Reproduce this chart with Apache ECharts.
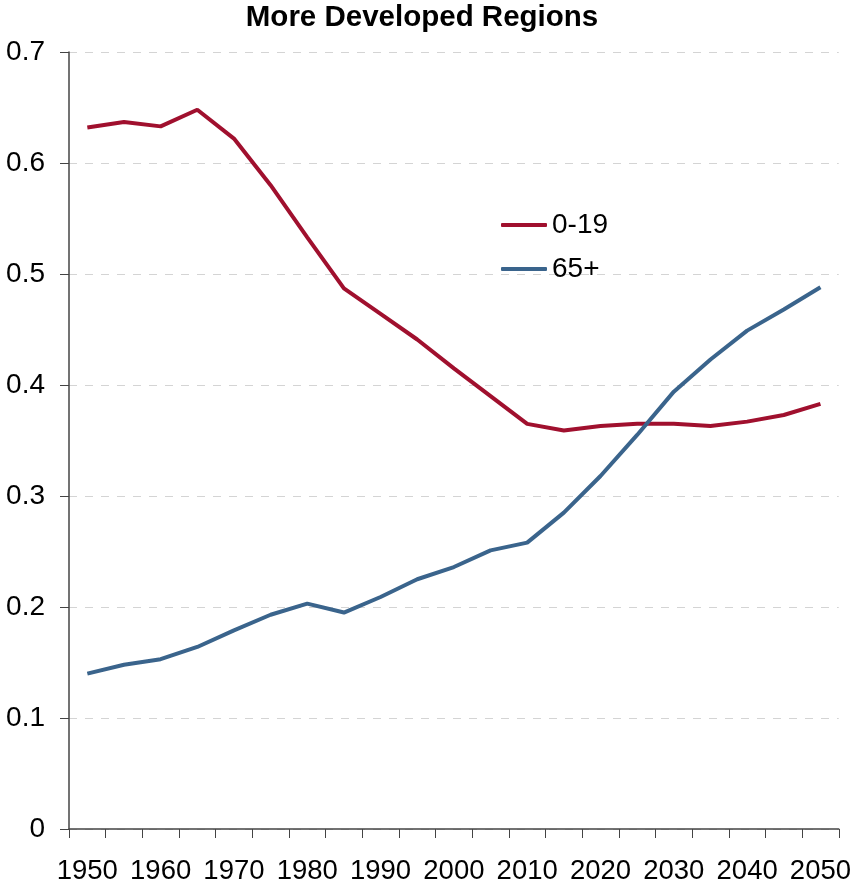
<!DOCTYPE html>
<html>
<head>
<meta charset="utf-8">
<script src="https://cdn.jsdelivr.net/npm/echarts@6/dist/echarts.min.js"></script>
<style>
  html, body { margin: 0; padding: 0; background: #fff; }
  #chart { width: 854px; height: 885px; }
</style>
</head>
<body>
<div id="chart"></div>
<script>
// Population share by age group, 1950-2050 (5-year steps)
const years = ['1950','1955','1960','1965','1970','1975','1980','1985','1990','1995','2000',
               '2005','2010','2015','2020','2025','2030','2035','2040','2045','2050'];
const young = [0.632, 0.637, 0.633, 0.648, 0.622, 0.580, 0.533, 0.487, 0.464, 0.441, 0.415,
               0.390, 0.365, 0.359, 0.363, 0.365, 0.365, 0.363, 0.367, 0.373, 0.383];
const old = [0.140, 0.148, 0.153, 0.164, 0.179, 0.193, 0.203, 0.195, 0.209, 0.225, 0.236,
             0.251, 0.258, 0.285, 0.318, 0.355, 0.394, 0.423, 0.449, 0.468, 0.488];
const yTicks = [0, 0.1, 0.2, 0.3, 0.4, 0.5, 0.6, 0.7];

const font = '"Liberation Sans", Arial, sans-serif';
const chart = echarts.init(document.getElementById('chart'), null, { renderer: 'canvas' });

chart.setOption({
  animation: false,
  backgroundColor: '#ffffff',
  title: {
    text: 'More Developed Regions',
    left: 422,
    top: 3,
    padding: 0,
    textAlign: 'center',
    textStyle: { fontFamily: font, fontSize: 29.5, fontWeight: 'bold', color: '#000' }
  },
  legend: {
    orient: 'vertical',
    left: 501,
    top: 211,
    padding: 0,
    icon: 'roundRect',
    itemWidth: 46,
    itemHeight: 4,
    itemGap: 16,
    textStyle: { fontFamily: font, fontSize: 28, color: '#000' },
    data: ['0-19', '65+']
  },
  grid: { left: 69, right: 14, top: 52, bottom: 56, containLabel: false },
  xAxis: {
    type: 'category',
    data: years,
    boundaryGap: true,
    axisLine: { lineStyle: { color: '#444', width: 1.5 } },
    axisTick: { show: true, interval: 0, length: 9, lineStyle: { color: '#444' } },
    axisLabel: {
      interval: 1, margin: 28, fontFamily: font, fontSize: 27.5, color: '#000'
    },
    splitLine: { show: false }
  },
  yAxis: {
    type: 'value',
    min: yTicks[0],
    max: yTicks[yTicks.length - 1],
    interval: 0.1,
    axisLine: { show: true, lineStyle: { color: '#444', width: 1.5 } },
    axisTick: { show: true, length: 9, lineStyle: { color: '#444' } },
    axisLabel: {
      margin: 24, fontFamily: font, fontSize: 28, color: '#000',
      formatter: v => (v === 0 ? '0' : String(Math.round(v * 10) / 10))
    },
    splitLine: { show: true, lineStyle: { color: '#d4d4d4', type: [8, 8], width: 1 } }
  },
  series: [
    {
      name: '0-19', type: 'line', data: young, symbol: 'none',
      lineStyle: { color: '#a0102e', width: 4 },
      itemStyle: { color: '#a0102e' }
    },
    {
      name: '65+', type: 'line', data: old, symbol: 'none',
      lineStyle: { color: '#3a648c', width: 4 },
      itemStyle: { color: '#3a648c' }
    }
  ]
});
</script>
</body>
</html>
